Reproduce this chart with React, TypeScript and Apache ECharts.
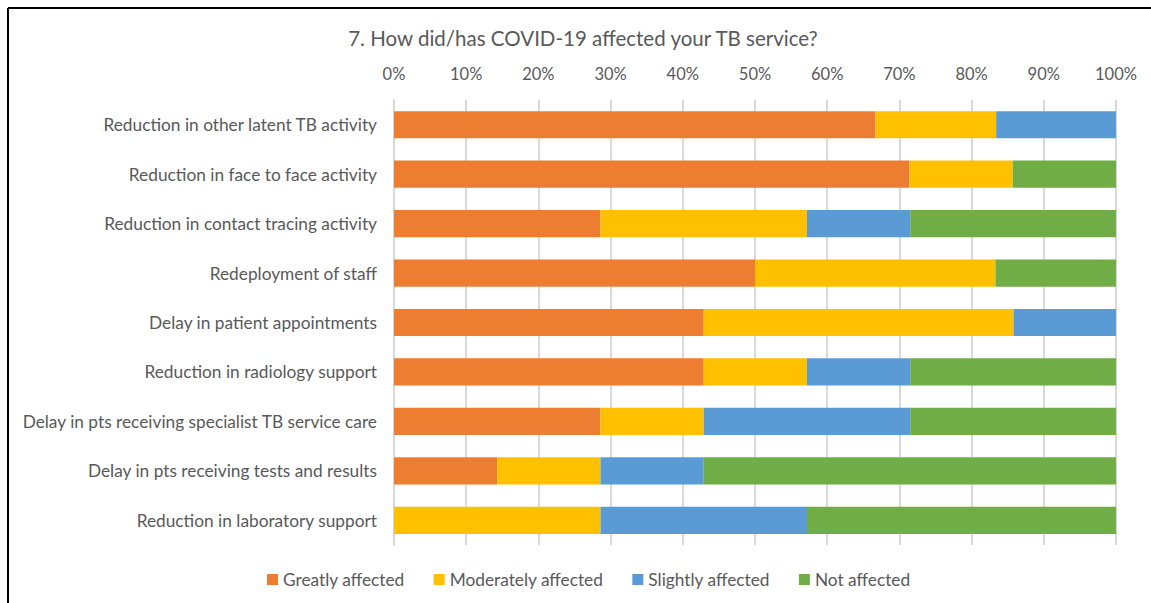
import React, { useEffect, useRef } from "react";
import * as echarts from "echarts";

const categories = [
  "Reduction in other latent TB activity",
  "Reduction in face to face activity",
  "Reduction in contact tracing activity",
  "Redeployment of staff",
  "Delay in patient appointments",
  "Reduction in radiology support",
  "Delay in pts receiving specialist TB service care",
  "Delay in pts receiving tests and results",
  "Reduction in laboratory support",
];

const greatly = [66.7, 71.4, 28.6, 50.0, 42.9, 42.9, 28.6, 14.3, 0];
const moderately = [16.7, 14.3, 28.6, 33.3, 42.9, 14.3, 14.3, 14.3, 28.6];
const slightly = [16.7, 0, 14.3, 0, 14.3, 14.3, 28.6, 14.3, 28.6];
const notAffected = [0, 14.3, 28.6, 16.7, 0, 28.6, 28.6, 57.1, 42.9];

const seriesNames = ["Greatly affected", "Moderately affected", "Slightly affected", "Not affected"];
const seriesColors = ["#ED7D31", "#FFC000", "#5B9BD5", "#70AD47"];
const seriesData = [greatly, moderately, slightly, notAffected];

const FONT = "Lato, 'Open Sans', sans-serif";

export default function App() {
  const ref = useRef<HTMLDivElement>(null);
  useEffect(() => {
    if (!ref.current) return;
    const chart = echarts.init(ref.current, null, { renderer: "svg" });
    chart.setOption({
      animation: false,
      backgroundColor: "#ffffff",
      textStyle: { fontFamily: FONT },
      title: {
        text: "7. How did/has COVID-19 affected your TB service?",
        left: 578,
        textAlign: "center",
        top: 22,
        textStyle: { fontFamily: FONT, fontSize: 20.5, fontWeight: "normal", color: "#595959" },
      },
      legend: {
        data: seriesNames,
        bottom: 10,
        left: 262,
        itemWidth: 11,
        itemHeight: 11,
        itemGap: 29,
        icon: "rect",
        textStyle: { fontFamily: FONT, fontSize: 17.3, color: "#595959" },
      },
      grid: { left: 394, right: 35, top: 100, height: 445, containLabel: false },
      xAxis: {
        type: "value",
        position: "top",
        min: 0,
        max: 100,
        interval: 10,
        axisLine: { show: false },
        axisTick: { show: false },
        axisLabel: { formatter: "{value}%", fontFamily: FONT, fontSize: 16.5, color: "#595959", margin: 18 },
        splitLine: { show: true, lineStyle: { color: "#D9D9D9", width: 2 } },
      },
      yAxis: {
        type: "category",
        data: categories,
        inverse: true,
        axisLine: { show: true, lineStyle: { color: "#D9D9D9", width: 2 } },
        axisTick: { show: false },
        axisLabel: { fontFamily: FONT, fontSize: 17.3, color: "#595959", margin: 17 },
      },
      graphic: [
        { type: "line", shape: { x1: 8, y1: 8, x2: 1151, y2: 8 }, style: { stroke: "#000", lineWidth: 2 } },
        { type: "line", shape: { x1: 8, y1: 8, x2: 8, y2: 603 }, style: { stroke: "#000", lineWidth: 2 } },
      ],
      series: seriesNames.map((name, i) => ({
        name,
        type: "bar",
        stack: "total",
        barWidth: "55%",
        itemStyle: { color: seriesColors[i] },
        data: seriesData[i],
      })),
    });
    return () => chart.dispose();
  }, []);
  return <div ref={ref} style={{ position: "fixed", left: 0, top: 0, width: 1151, height: 603 }} />;
}
